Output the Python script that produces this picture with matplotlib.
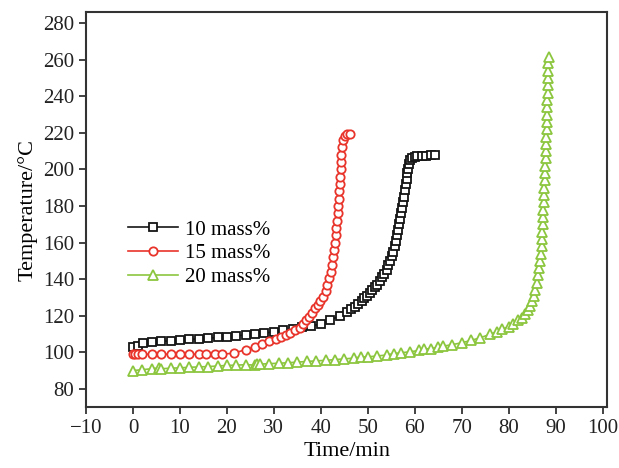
import matplotlib
matplotlib.use('Agg')
import matplotlib.pyplot as plt

plt.rcParams['font.family'] = ['Liberation Serif', 'DejaVu Serif']

# 10 mass%
t10 = [0, 1, 2.2, 4, 6, 8, 10, 12, 14, 16, 18, 20, 22, 24, 26, 28, 30, 32, 34, 36,
       38, 40, 42, 44, 45.5, 46.5, 47.3, 48, 48.7, 49.3, 49.9, 50.5, 51, 51.5, 52, 52.5, 53, 53.5, 54, 54.4,
       54.8, 55.1, 55.4, 55.7, 56, 56.3, 56.5, 56.7, 56.9, 57.1, 57.3, 57.5, 57.7, 57.9, 58.1, 58.3, 58.4, 58.6, 58.8, 59,
       59.4, 60, 60.5, 61.5, 62.5, 63.5, 64.4]
T10 = [103, 103.5, 105, 105.5, 106, 106.3, 106.7, 107, 107.4, 107.7, 108.1, 108.5, 109, 109.5, 110, 110.5, 111.2, 112, 112.8, 113.6,
       114.5, 115.5, 117.5, 120, 122, 123.5, 125, 126.5, 128, 129.5, 131, 132.5, 134, 135.5, 137, 139, 141, 143, 145, 147.5,
       150, 152.5, 155, 158, 161, 164, 167, 170, 173, 176, 179, 182, 185, 189, 192, 195, 198, 200.5, 203, 205,
       206.3, 207, 207.3, 207.4, 207.5, 207.7, 208]

# 15 mass%
t15 = [0, 0.5, 1, 2, 4, 6, 8, 10, 12, 14, 15.5, 17.5, 19, 21.5, 24, 26, 27.5, 29, 30.5, 31.5,
       32.5, 33.5, 34.5, 35.5, 36.2, 36.9, 37.5, 38.1, 38.7, 39.3, 39.9, 40.5, 41, 41.4, 41.8, 42.1, 42.4, 42.6, 42.8, 43,
       43.2, 43.3, 43.4, 43.6, 43.7, 43.8, 43.9, 44, 44.1, 44.2, 44.3, 44.4, 44.5, 44.7, 45.1, 45.6, 46.3]
T15 = [99, 99, 99, 99, 99, 99, 99, 99, 99, 99, 99, 99, 99, 99.5, 101.5, 103, 104.5, 106, 107.5, 108.5,
       109.5, 110.5, 112, 113.5, 115.5, 117.5, 119.5, 121.5, 124, 126, 128, 130.5, 133.5, 137, 140.5, 144, 148, 152, 156, 160,
       164, 168, 172, 176, 180, 184, 188, 192, 196, 200, 204, 208, 212, 216, 218.5, 219.2, 219.5]

# 20 mass%
t20 = [0, 2, 4, 5.5, 6, 8, 10, 12, 14, 16, 18, 20, 22, 24, 26, 26.5, 27, 29, 31, 33,
       35, 37, 39, 41, 43, 45, 47, 48.5, 50, 52, 54, 55.5, 57, 59, 61, 62, 63.5, 65, 66, 68,
       70, 72, 74, 76, 77.5, 78.5, 80, 81, 82, 82.8, 83.5, 84.1, 84.6, 85, 85.4, 85.7, 86, 86.3, 86.5, 86.7,
       86.9, 87, 87.1, 87.2, 87.3, 87.4, 87.4, 87.5, 87.6, 87.6, 87.7, 87.8, 87.8, 87.9, 87.9, 88, 88, 88.1, 88.1, 88.2,
       88.2, 88.2, 88.3, 88.3, 88.4, 88.4, 88.4, 88.5]
T20 = [90, 90.5, 91, 91.5, 91, 91.3, 91.5, 91.8, 92, 92.2, 92.5, 92.8, 93, 93.2, 93, 93.5, 93.5, 93.8, 94, 94.3,
       94.6, 95, 95.3, 95.6, 96, 96.4, 96.8, 97.5, 97.5, 98, 98.5, 99.3, 99.7, 100.3, 101, 101.8, 102, 102.8, 103.3, 104.2,
       105.2, 106.5, 108, 109.8, 111.3, 112.5, 114, 115.5, 117.5, 119, 121, 123, 125.5, 128, 131, 134, 138, 142, 146, 150,
       154, 158, 162, 166, 170, 174, 178, 182, 186, 190, 194, 198, 202, 206, 210, 214, 218, 222, 226, 230,
       234, 238, 242, 246, 250, 254, 258, 261.5]

labels = ['10 mass%', '15 mass%', '20 mass%']
colors = ['#151515', '#e8342b', '#8cc63f']

fig = plt.figure(figsize=(6.19, 4.68), dpi=100)
ax = fig.add_axes([0.139, 0.130, 0.842, 0.844])

ax.plot(t10, T10, color=colors[0], marker='s', ms=5.5, mfc='white', mew=1.3, lw=1.2, label=labels[0])
ax.plot(t15, T15, color=colors[1], marker='o', ms=6, mfc='white', mew=1.3, lw=1.2, label=labels[1])
ax.plot(t20, T20, color=colors[2], marker='^', ms=7.5, mfc='white', mew=1.3, lw=1.2, label=labels[2])

ax.set_xlim(-10, 101)
ax.set_ylim(70, 286)
ax.set_xticks(range(-10, 101, 10))
ax.set_yticks(range(80, 281, 20))
ax.tick_params(direction='out', length=5, width=1.2, labelsize=15, colors='#222222', top=False, right=False)
for s in ax.spines.values():
    s.set_linewidth(1.5)
    s.set_color('#333333')

ax.set_xlabel('Time/min', fontsize=16, labelpad=3)
ax.set_ylabel('Temperature/°C', fontsize=16, labelpad=4)

ax.legend(loc='upper left', bbox_to_anchor=(0.06, 0.5), frameon=False, fontsize=15,
          handlelength=2.4, handletextpad=0.35, labelspacing=0.2, borderpad=0)

fig.savefig('out.png', dpi=100)
